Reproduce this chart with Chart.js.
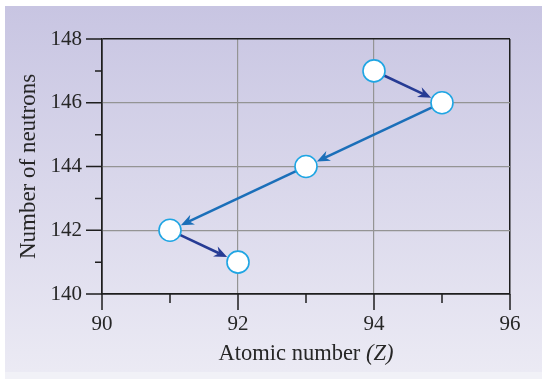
<!DOCTYPE html>
<html>
<head>
<meta charset="utf-8">
<script src="https://cdn.jsdelivr.net/npm/chart.js@4.4.1/dist/chart.umd.min.js"></script>
<style>
  html, body { margin: 0; padding: 0; background: #fff; }
  #wrap { position: relative; width: 542px; height: 379px; }
  #panel {
    position: absolute; left: 5px; top: 6px; right: 0; bottom: 7px;
    background: linear-gradient(#c8c5e2, #ebeaf4);
  }
  #foot {
    position: absolute; left: 5px; right: 0; bottom: 0; height: 7px;
    background: #f1f1f7;
  }
  canvas { position: absolute; left: 0; top: 0; }
</style>
</head>
<body>
<div id="wrap">
  <div id="panel"></div>
  <div id="foot"></div>
  <canvas id="chart" width="542" height="379"></canvas>
</div>
<script>
// decay chain: (Z, N) of each nucleus, in order
const atomicNumbers = [94, 95, 93, 91, 92];
const neutronCounts = [147, 146, 144, 142, 141];
// colour of each step arrow (i -> i+1)
const stepColors = ['#263b94', '#1b6fb9', '#1b6fb9', '#263b94'];

const xTicks = [90, 92, 94, 96];
const yTicks = [140, 142, 144, 146, 148];
const xMinorTicks = [91, 93, 95];
const yMinorTicks = [141, 143, 145, 147];

const xTitle = 'Atomic number ';
const xTitleItalic = '(Z)';
const yTitle = 'Number of neutrons';

const serif = '"Liberation Serif", "DejaVu Serif", serif';
const textColor = '#262626';
const pointRadius = 11;

const points = atomicNumbers.map((z, i) => ({ x: z, y: neutronCounts[i] }));

// arrows between successive nuclei, stopping at the circle edges
const arrowPlugin = {
  id: 'arrows',
  beforeDatasetsDraw(chart) {
    const { ctx, scales: { x, y } } = chart;
    ctx.save();
    for (let i = 0; i < points.length - 1; i++) {
      const x0 = x.getPixelForValue(points[i].x), y0 = y.getPixelForValue(points[i].y);
      const x1 = x.getPixelForValue(points[i + 1].x), y1 = y.getPixelForValue(points[i + 1].y);
      const ang = Math.atan2(y1 - y0, x1 - x0);
      const len = Math.hypot(x1 - x0, y1 - y0);
      const sx = x0 + Math.cos(ang) * pointRadius;
      const sy = y0 + Math.sin(ang) * pointRadius;
      const tip = len - pointRadius - 1;
      const tx = x0 + Math.cos(ang) * tip;
      const ty = y0 + Math.sin(ang) * tip;
      const headLen = 13, headW = 5.5, notch = 9;
      ctx.strokeStyle = stepColors[i];
      ctx.fillStyle = stepColors[i];
      ctx.lineWidth = 2.6;
      ctx.beginPath();
      ctx.moveTo(sx, sy);
      ctx.lineTo(x0 + Math.cos(ang) * (tip - notch), y0 + Math.sin(ang) * (tip - notch));
      ctx.stroke();
      ctx.translate(tx, ty);
      ctx.rotate(ang);
      ctx.beginPath();
      ctx.moveTo(0, 0);
      ctx.lineTo(-headLen, -headW);
      ctx.lineTo(-notch, 0);
      ctx.lineTo(-headLen, headW);
      ctx.closePath();
      ctx.fill();
      ctx.setTransform(1, 0, 0, 1, 0, 0);
    }
    ctx.restore();
  }
};

// outward tick marks (long at labelled values, short in between) and axis titles
const axisPlugin = {
  id: 'axisDecor',
  afterDraw(chart) {
    const { ctx, chartArea: a, scales: { x, y } } = chart;
    ctx.save();
    ctx.strokeStyle = '#1e1e1e';
    ctx.lineWidth = 1.5;
    ctx.beginPath();
    xTicks.forEach(v => { const p = x.getPixelForValue(v); ctx.moveTo(p, a.bottom); ctx.lineTo(p, a.bottom + 16); });
    xMinorTicks.forEach(v => { const p = x.getPixelForValue(v); ctx.moveTo(p, a.bottom); ctx.lineTo(p, a.bottom + 9); });
    yTicks.forEach(v => { const p = y.getPixelForValue(v); ctx.moveTo(a.left, p); ctx.lineTo(a.left - 16, p); });
    yMinorTicks.forEach(v => { const p = y.getPixelForValue(v); ctx.moveTo(a.left, p); ctx.lineTo(a.left - 7, p); });
    ctx.stroke();

    ctx.fillStyle = textColor;
    ctx.textBaseline = 'middle';
    const reg = '22.5px ' + serif, ital = 'italic 22.5px ' + serif;
    ctx.font = reg;
    const w1 = ctx.measureText(xTitle).width;
    ctx.font = ital;
    const w2 = ctx.measureText(xTitleItalic).width;
    const cx = (a.left + a.right) / 2;
    let tx = cx - (w1 + w2) / 2;
    ctx.font = reg;
    ctx.textAlign = 'left';
    ctx.fillText(xTitle, tx, 354);
    ctx.font = ital;
    ctx.fillText(xTitleItalic, tx + w1, 354);

    ctx.translate(29, (a.top + a.bottom) / 2);
    ctx.rotate(-Math.PI / 2);
    ctx.font = '23px ' + serif;
    ctx.textAlign = 'center';
    ctx.fillText(yTitle, 0, 0);
    ctx.restore();
  }
};

const edgeOrGrid = (ctx, lo, hi) => {
  const v = ctx.tick ? ctx.tick.value : null;
  return (v === lo || v === hi) ? '#1e1e1e' : '#949494';
};

new Chart(document.getElementById('chart'), {
  type: 'scatter',
  data: {
    datasets: [{
      data: points,
      showLine: false,
      pointRadius: pointRadius,
      pointHoverRadius: pointRadius,
      pointBackgroundColor: '#ffffff',
      pointBorderColor: '#1fa5e3',
      pointBorderWidth: 1.6
    }]
  },
  options: {
    responsive: false,
    animation: false,
    layout: { padding: { left: 5, top: 39, right: 32, bottom: 0 } },
    plugins: { legend: { display: false }, tooltip: { enabled: false } },
    scales: {
      x: {
        type: 'linear',
        min: xTicks[0],
        max: xTicks[xTicks.length - 1],
        afterFit: s => { s.height = 85; },
        afterBuildTicks: s => { s.ticks = xTicks.map(v => ({ value: v })); },
        border: { display: true, color: '#1e1e1e', width: 1.5 },
        grid: {
          drawTicks: false,
          color: c => edgeOrGrid(c, xTicks[0], xTicks[xTicks.length - 1]),
          lineWidth: c => (c.tick && (c.tick.value === 90 || c.tick.value === 96)) ? 1.5 : 1.2
        },
        ticks: { padding: 18, color: textColor, font: { family: serif, size: 21 } }
      },
      y: {
        type: 'linear',
        min: yTicks[0],
        max: yTicks[yTicks.length - 1],
        afterFit: s => { s.width = 97; },
        afterBuildTicks: s => { s.ticks = yTicks.map(v => ({ value: v })); },
        border: { display: true, color: '#1e1e1e', width: 1.5 },
        grid: {
          drawTicks: false,
          color: c => edgeOrGrid(c, yTicks[0], yTicks[yTicks.length - 1]),
          lineWidth: c => (c.tick && (c.tick.value === 140 || c.tick.value === 148)) ? 1.5 : 1.2
        },
        ticks: { padding: 20, color: textColor, font: { family: serif, size: 21 } }
      }
    }
  },
  plugins: [arrowPlugin, axisPlugin]
});
</script>
</body>
</html>
